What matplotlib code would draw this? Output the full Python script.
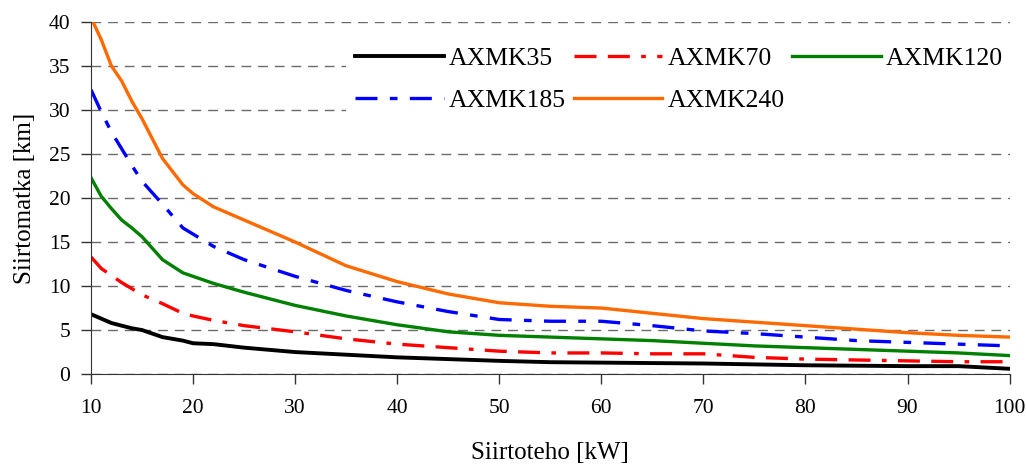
import matplotlib
matplotlib.use('Agg')
import matplotlib.pyplot as plt

plt.rcParams['font.family'] = ['Liberation Serif', 'DejaVu Serif']

# transfer power [kW]
power = [10, 11, 12, 13, 14, 15, 17, 19, 20, 22, 25, 30, 35, 40, 45, 50,
         55, 60, 65, 70, 75, 80, 85, 90, 95, 100]

# transfer distance [km] per cable type
axmk35 = [6.8, 6.3, 5.8, 5.5, 5.2, 5.0, 4.2, 3.8, 3.5, 3.4, 3.0, 2.5, 2.2,
          1.9, 1.7, 1.5, 1.35, 1.3, 1.25, 1.2, 1.1, 1.0, 0.95, 0.9, 0.9, 0.6]
axmk70 = [13.3, 12.0, 11.2, 10.4, 9.7, 9.0, 8.0, 6.9, 6.6, 6.1, 5.5, 4.8, 4.0,
          3.4, 3.0, 2.6, 2.4, 2.4, 2.3, 2.3, 1.9, 1.7, 1.6, 1.5, 1.4, 1.4]
axmk120 = [22.3, 20.2, 18.8, 17.5, 16.6, 15.6, 13.0, 11.5, 11.1, 10.3, 9.3, 7.8,
           6.6, 5.6, 4.8, 4.4, 4.2, 4.0, 3.8, 3.5, 3.2, 3.0, 2.8, 2.6, 2.4, 2.1]
axmk185 = [32.3, 29.8, 27.5, 25.6, 23.7, 21.9, 19.3, 16.6, 15.9, 14.5, 13.0,
           11.1, 9.5, 8.2, 7.1, 6.2, 6.0, 6.0, 5.5, 4.9, 4.6, 4.2, 3.8, 3.6,
           3.4, 3.2]
axmk240 = [40.5, 38.0, 35.0, 33.3, 31.0, 29.0, 24.5, 21.5, 20.5, 19.0, 17.5,
           15.0, 12.3, 10.5, 9.1, 8.1, 7.7, 7.5, 6.9, 6.3, 5.9, 5.5, 5.1, 4.7,
           4.4, 4.2]

fig = plt.figure(figsize=(10.26, 4.67), dpi=100)
ax = fig.add_axes([0.0887, 0.199, 0.8953, 0.754])

lw = 2.4
l35, = ax.plot(power, axmk35, color='black', lw=2.8, label='AXMK35')
l70, = ax.plot(power, axmk70, color='#ff0000', lw=lw, label='AXMK70',
               linestyle=(0, (6.6, 3.4, 6.6, 3.4, 1.4, 3.4)))
l120, = ax.plot(power, axmk120, color='#008000', lw=lw, label='AXMK120')
l185, = ax.plot(power, axmk185, color='#0000ff', lw=lw, label='AXMK185',
                linestyle=(0, (6.6, 3.7, 2.3, 3.7)))
l240, = ax.plot(power, axmk240, color='#ff6a00', lw=lw, label='AXMK240')

ax.set_xlim(10, 100)
ax.set_ylim(0, 40)
ax.set_xticks(range(10, 101, 10))
ax.set_yticks(range(0, 41, 5))
ax.yaxis.grid(True, color='#6a6a6a', linestyle=(0, (7, 5)), lw=1.0)
ax.set_axisbelow(True)

for s in ['top', 'right']:
    ax.spines[s].set_visible(False)
for s in ['left', 'bottom']:
    ax.spines[s].set_color('#333333')
ax.tick_params(direction='out', length=7, width=1, colors='#333333',
               labelcolor='black', labelsize=15.5)
ax.tick_params(axis='x', pad=11)
ax.tick_params(axis='y', pad=8)

ax.set_xlabel('Siirtoteho [kW]', fontsize=18, labelpad=17)
ax.set_ylabel('Siirtomatka [km]', fontsize=18, labelpad=9)

# row-major legend order for 3 columns
handles = [l35, l185, l70, l240, l120]
leg = ax.legend(handles=handles, labels=[h.get_label() for h in handles],
                ncol=3, loc='upper right', bbox_to_anchor=(1.003, 0.955),
                fontsize=18.5, handlelength=3.45, handletextpad=0.2,
                columnspacing=0.3, labelspacing=0.76, borderpad=0.35,
                borderaxespad=0, frameon=True, fancybox=False, framealpha=1)
leg.get_frame().set_edgecolor('none')
leg.get_frame().set_facecolor('white')

fig.savefig('out.png', dpi=100)
